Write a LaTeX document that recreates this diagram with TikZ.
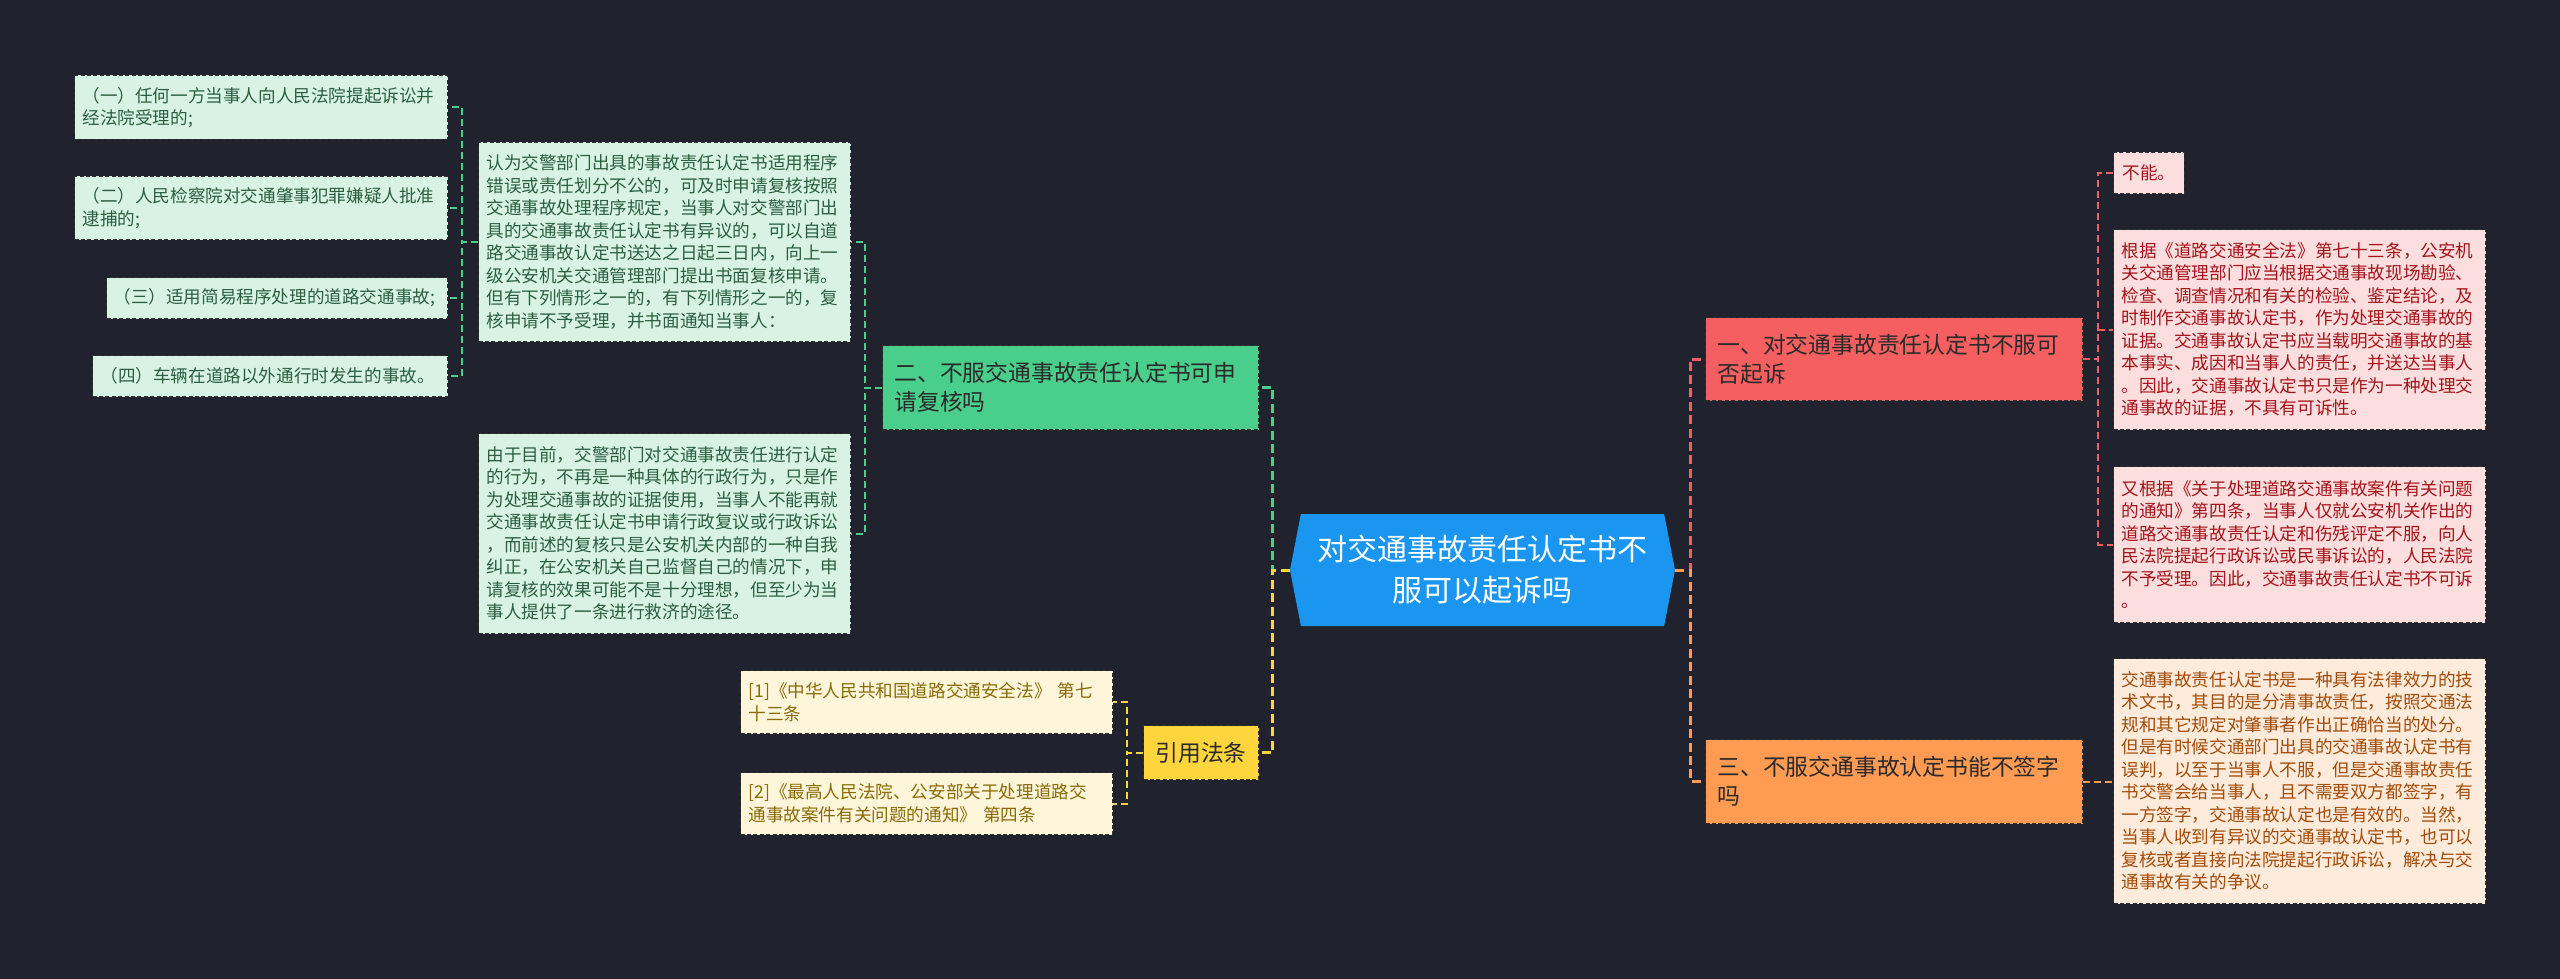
\documentclass[tikz,border=0pt]{standalone}
\usepackage{fontspec}
\newfontfamily\cjk{Noto Sans CJK SC}
\usetikzlibrary{shapes.symbols}
\newdimen\pxu \pxu=0.5pt
\definecolor{bg}{HTML}{20232E}
\definecolor{cblue}{HTML}{1A96F0}
\definecolor{mgreen}{HTML}{4ACE8B}
\definecolor{mred}{HTML}{F55F5F}
\definecolor{morange}{HTML}{FF9B52}
\definecolor{myellow}{HTML}{FFD53E}
\definecolor{lgfill}{HTML}{D8F3E3}
\definecolor{lgtext}{HTML}{2C5F3F}
\definecolor{pkfill}{HTML}{FDDEDE}
\definecolor{pktext}{HTML}{A3141B}
\definecolor{orfill}{HTML}{FEEBDC}
\definecolor{ortext}{HTML}{A34B07}
\definecolor{ylfill}{HTML}{FDF6DA}
\definecolor{yltext}{HTML}{8B6B07}
\definecolor{maintext}{HTML}{2A2A2A}
\definecolor{bord}{HTML}{2E2E2E}
\begin{document}
\begin{tikzpicture}[x=0.5pt,y=-0.5pt,
  box/.style={anchor=north west, align=left, inner ysep=0pt, draw=bord, line width=0.5pt, dash pattern=on 2pt off 1.2pt},
  leaf/.style={box, inner xsep=8\pxu, font=\cjk\fontsize{8.8pt}{11.25pt}\selectfont},
  leafg/.style={leaf, fill=lgfill, text=lgtext},
  leafp/.style={leaf, fill=pkfill, text=pktext},
  leafo/.style={leaf, fill=orfill, text=ortext},
  leafy/.style={leaf, fill=ylfill, text=yltext},
  mainbox/.style={box, inner xsep=12\pxu, text=maintext, font=\cjk\fontsize{11.4pt}{14.5pt}\selectfont},
  conbig/.style={line width=1.5pt, dash pattern=on 4.5pt off 2.2pt},
  con/.style={line width=1pt, dash pattern=on 3.5pt off 2pt}
]
\fill[bg] (0,0) rectangle (2560,979);
\useasboundingbox (0,0) rectangle (2560,979);

% central node
\node[shape=signal, signal to=west and east, signal pointer angle=158, fill=cblue, inner sep=0pt,
      minimum width=385\pxu, minimum height=112\pxu, align=center, text=white,
      font=\cjk\fontsize{15pt}{20.5pt}\selectfont] (c) at (1482.5,570)
  {对交通事故责任认定书不\\服可以起诉吗};

% main nodes
\node[mainbox, fill=mgreen, text width=352\pxu, minimum height=84\pxu] (m2) at (882,345)
  {二、不服交通事故责任认定书可申\\请复核吗};
\node[mainbox, fill=myellow, inner xsep=12\pxu, minimum height=54\pxu] (m4) at (1143,725)
  {引用法条};
\node[mainbox, fill=mred, text width=353\pxu, minimum height=83\pxu] (m1) at (1705,317)
  {一、对交通事故责任认定书不服可\\否起诉};
\node[mainbox, fill=morange, text width=353\pxu, minimum height=84\pxu] (m3) at (1705,739)
  {三、不服交通事故认定书能不签字\\吗};

% left green big boxes
\node[leafg, text width=356\pxu, minimum height=199\pxu] (b1) at (478,142)
  {认为交警部门出具的事故责任认定书适用程序\\错误或责任划分不公的，可及时申请复核按照\\交通事故处理程序规定，当事人对交警部门出\\具的交通事故责任认定书有异议的，可以自道\\路交通事故认定书送达之日起三日内，向上一\\级公安机关交通管理部门提出书面复核申请。\\但有下列情形之一的，有下列情形之一的，复\\核申请不予受理，并书面通知当事人：};
\node[leafg, text width=356\pxu, minimum height=200\pxu] (b2) at (478,433)
  {由于目前，交警部门对交通事故责任进行认定\\的行为，不再是一种具体的行政行为，只是作\\为处理交通事故的证据使用，当事人不能再就\\交通事故责任认定书申请行政复议或行政诉讼\\，而前述的复核只是公安机关内部的一种自我\\纠正，在公安机关自己监督自己的情况下，申\\请复核的效果可能不是十分理想，但至少为当\\事人提供了一条进行救济的途径。};

% left small leaves
\node[leafg, text width=357\pxu, minimum height=64\pxu] (l1) at (74,75)
  {（一）任何一方当事人向人民法院提起诉讼并\\经法院受理的;};
\node[leafg, text width=357\pxu, minimum height=63\pxu] (l2) at (74,176)
  {（二）人民检察院对交通肇事犯罪嫌疑人批准\\逮捕的;};
\node[leafg, inner xsep=7\pxu, text width=327\pxu, minimum height=41\pxu] (l3) at (106,277)
  {（三）适用简易程序处理的道路交通事故;};
\node[leafg, text width=339\pxu, minimum height=41\pxu] (l4) at (92,355)
  {（四）车辆在道路以外通行时发生的事故。};

% yellow references
\node[leafy, text width=356\pxu, minimum height=63\pxu] (y1) at (740,670)
  {[1]《中华人民共和国道路交通安全法》~第七\\十三条};
\node[leafy, text width=356\pxu, minimum height=62\pxu] (y2) at (740,772)
  {[2]《最高人民法院、公安部关于处理道路交\\通事故案件有关问题的通知》~第四条};

% right leaves
\node[leafp, inner xsep=9\pxu, minimum height=41\pxu] (r1) at (2113,152) {不能。};
\node[leafp, text width=356\pxu, minimum height=200\pxu] (r2) at (2113,229)
  {根据《道路交通安全法》第七十三条，公安机\\关交通管理部门应当根据交通事故现场勘验、\\检查、调查情况和有关的检验、鉴定结论，及\\时制作交通事故认定书，作为处理交通事故的\\证据。交通事故认定书应当载明交通事故的基\\本事实、成因和当事人的责任，并送达当事人\\。因此，交通事故认定书只是作为一种处理交\\通事故的证据，不具有可诉性。};
\node[leafp, text width=356\pxu, minimum height=156\pxu] (r3) at (2113,466)
  {又根据《关于处理道路交通事故案件有关问题\\的通知》第四条，当事人仅就公安机关作出的\\道路交通事故责任认定和伤残评定不服，向人\\民法院提起行政诉讼或民事诉讼的，人民法院\\不予受理。因此，交通事故责任认定书不可诉\\。};
\node[leafo, text width=356\pxu, minimum height=245\pxu] (r4) at (2113,658)
  {交通事故责任认定书是一种具有法律效力的技\\术文书，其目的是分清事故责任，按照交通法\\规和其它规定对肇事者作出正确恰当的处分。\\但是有时候交通部门出具的交通事故认定书有\\误判，以至于当事人不服，但是交通事故责任\\书交警会给当事人，且不需要双方都签字，有\\一方签字，交通事故认定也是有效的。当然，\\当事人收到有异议的交通事故认定书，也可以\\复核或者直接向法院提起行政诉讼，解决与交\\通事故有关的争议。};

% connectors: center to main
\draw[conbig, mgreen] (c.west) -- ++(-17,0) |- (m2.east);
\draw[conbig, myellow] (c.west) -- ++(-17,0) |- (m4.east);
\draw[conbig, mred] (c.east) -- ++(15,0) |- (m1.west);
\draw[conbig, morange] (c.east) -- ++(15,0) |- (m3.west);

% green branch
\draw[con, mgreen] (m2.west) -- ++(-17,0) |- (b1.east);
\draw[con, mgreen] (m2.west) -- ++(-17,0) |- (b2.east);
\foreach \n in {l1,l2,l3,l4}
  \draw[con, mgreen] (b1.west) -- ++(-16,0) |- (\n.east);

% yellow branch
\draw[con, myellow] (m4.west) -- ++(-16,0) |- (y1.east);
\draw[con, myellow] (m4.west) -- ++(-16,0) |- (y2.east);

% red branch
\foreach \n in {r1,r2,r3}
  \draw[con, mred] (m1.east) -- ++(15,0) |- (\n.west);

% orange branch
\draw[con, morange] (m3.east) -- (m3.east -| r4.west);
\end{tikzpicture}
\end{document}
